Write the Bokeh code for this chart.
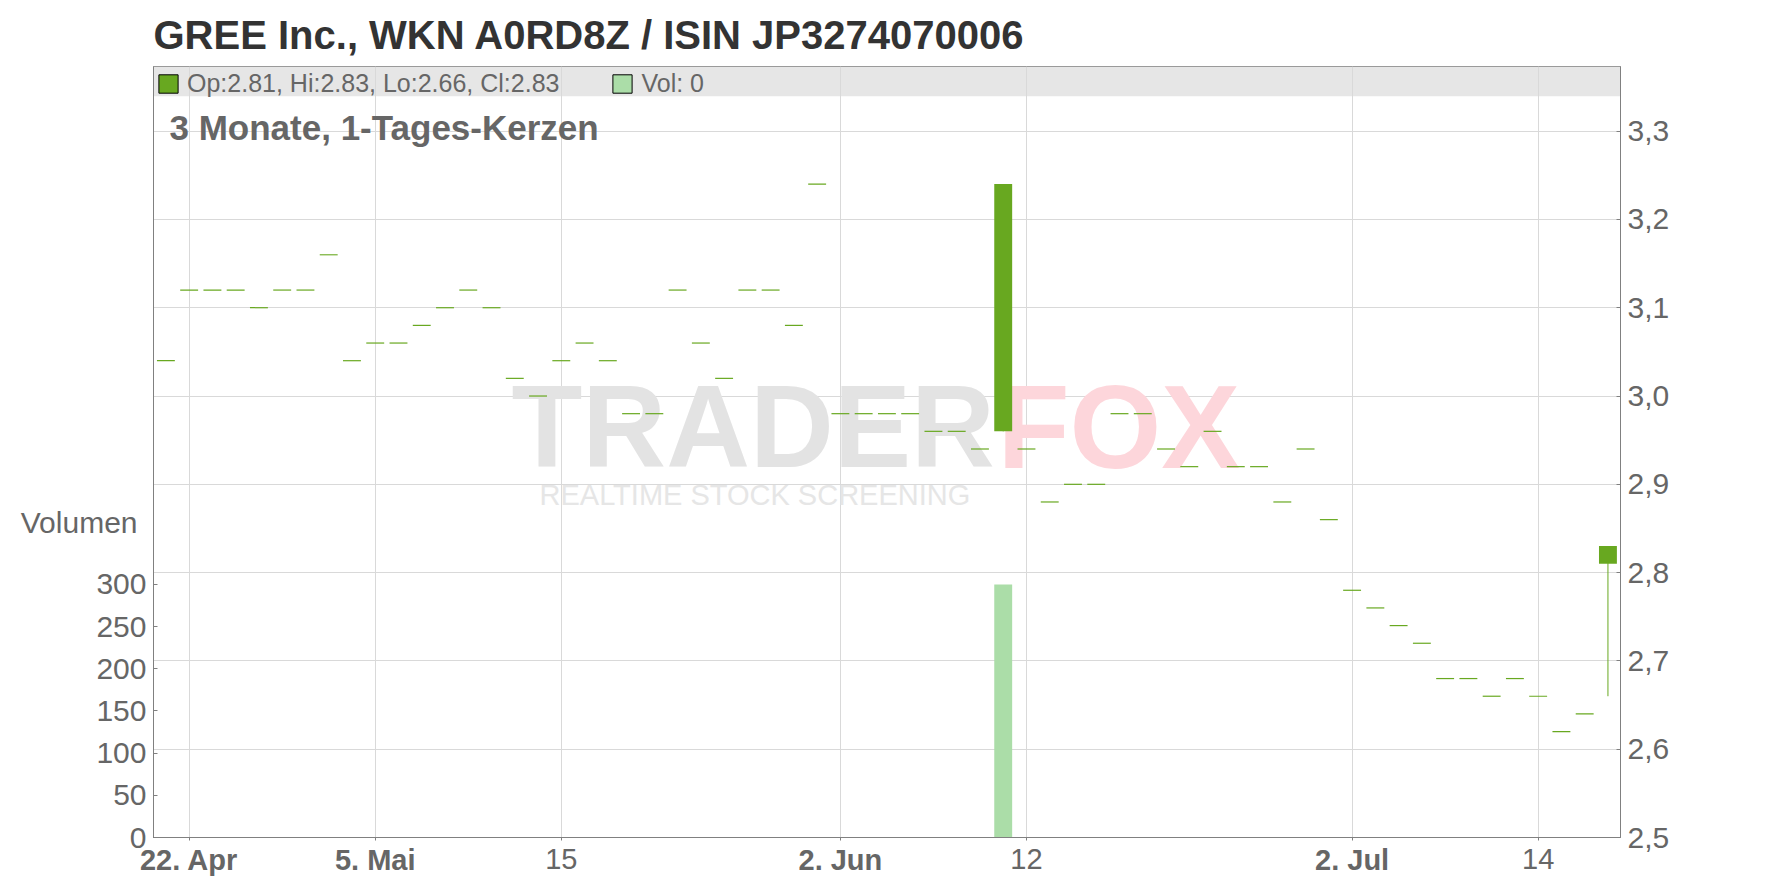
from bokeh.plotting import figure
from bokeh.models import (ColumnDataSource, Range1d, LinearAxis, FixedTicker,
                          CustomJSTickFormatter, Label, BoxAnnotation, Legend, LegendItem)
from bokeh.embed import file_html
from bokeh.resources import INLINE

# ---------------- data ----------------
title_text = "GREE Inc., WKN A0RD8Z / ISIN JP3274070006"
subtitle_text = "3 Monate, 1-Tages-Kerzen"
vol_title = "Volumen"

# trading-day index 0..62 (17 Apr .. 17 Jul)
opens = [3.04, 3.12, 3.12, 3.12, 3.10, 3.12, 3.12, 3.16, 3.04, 3.06,
         3.06, 3.08, 3.10, 3.12, 3.10, 3.02, 3.00, 3.04, 3.06, 3.04,
         2.98, 2.98, 3.12, 3.06, 3.02, 3.12, 3.12, 3.08, 3.24, 2.98,
         2.98, 2.98, 2.98, 2.96, 2.96, 2.94, 2.96, 2.94, 2.88, 2.90,
         2.90, 2.98, 2.98, 2.94, 2.92, 2.96, 2.92, 2.92, 2.88, 2.94,
         2.86, 2.78, 2.76, 2.74, 2.72, 2.68, 2.68, 2.66, 2.68, 2.66,
         2.62, 2.64, 2.81]
highs = [3.04, 3.12, 3.12, 3.12, 3.10, 3.12, 3.12, 3.16, 3.04, 3.06,
         3.06, 3.08, 3.10, 3.12, 3.10, 3.02, 3.00, 3.04, 3.06, 3.04,
         2.98, 2.98, 3.12, 3.06, 3.02, 3.12, 3.12, 3.08, 3.24, 2.98,
         2.98, 2.98, 2.98, 2.96, 2.96, 2.94, 3.24, 2.94, 2.88, 2.90,
         2.90, 2.98, 2.98, 2.94, 2.92, 2.96, 2.92, 2.92, 2.88, 2.94,
         2.86, 2.78, 2.76, 2.74, 2.72, 2.68, 2.68, 2.66, 2.68, 2.66,
         2.62, 2.64, 2.83]
lows = [3.04, 3.12, 3.12, 3.12, 3.10, 3.12, 3.12, 3.16, 3.04, 3.06,
        3.06, 3.08, 3.10, 3.12, 3.10, 3.02, 3.00, 3.04, 3.06, 3.04,
        2.98, 2.98, 3.12, 3.06, 3.02, 3.12, 3.12, 3.08, 3.24, 2.98,
        2.98, 2.98, 2.98, 2.96, 2.96, 2.94, 2.96, 2.94, 2.88, 2.90,
        2.90, 2.98, 2.98, 2.94, 2.92, 2.96, 2.92, 2.92, 2.88, 2.94,
        2.86, 2.78, 2.76, 2.74, 2.72, 2.68, 2.68, 2.66, 2.68, 2.66,
        2.62, 2.64, 2.66]
closes = [3.04, 3.12, 3.12, 3.12, 3.10, 3.12, 3.12, 3.16, 3.04, 3.06,
          3.06, 3.08, 3.10, 3.12, 3.10, 3.02, 3.00, 3.04, 3.06, 3.04,
          2.98, 2.98, 3.12, 3.06, 3.02, 3.12, 3.12, 3.08, 3.24, 2.98,
          2.98, 2.98, 2.98, 2.96, 2.96, 2.94, 3.24, 2.94, 2.88, 2.90,
          2.90, 2.98, 2.98, 2.94, 2.92, 2.96, 2.92, 2.92, 2.88, 2.94,
          2.86, 2.78, 2.76, 2.74, 2.72, 2.68, 2.68, 2.66, 2.68, 2.66,
          2.62, 2.64, 2.83]
volumes = [0, 0, 0, 0, 0, 0, 0, 0, 0, 0,
           0, 0, 0, 0, 0, 0, 0, 0, 0, 0,
           0, 0, 0, 0, 0, 0, 0, 0, 0, 0,
           0, 0, 0, 0, 0, 0, 300, 0, 0, 0,
           0, 0, 0, 0, 0, 0, 0, 0, 0, 0,
           0, 0, 0, 0, 0, 0, 0, 0, 0, 0,
           0, 0, 0]

tick_idx = [1, 9, 17, 29, 37, 51, 59]
tick_labels = ["22. Apr", "5. Mai", "15", "2. Jun", "12", "2. Jul", "14"]
tick_bold = [True, True, False, True, False, True, False]
price_ticks = [2.5, 2.6, 2.7, 2.8, 2.9, 3.0, 3.1, 3.2, 3.3]
vol_ticks = [0, 50, 100, 150, 200, 250, 300]
vol_title_at = 373   # volume-axis position of the "Volumen" caption

# ---------------- styling ----------------
FONT = "Liberation Sans"
GREEN = "#68a820"
VOLGREEN = "#abdda8"
GRID = "#d9d9d9"
AXIS = "#808080"
TXT = "#666666"

n = len(opens)
idx = list(range(n))
W = 0.77

flat_x, flat_y = [], []
body_x, body_top, body_bot = [], [], []
wick_x, wick_lo, wick_hi = [], [], []
for i in idx:
    o, h, l, c = opens[i], highs[i], lows[i], closes[i]
    if h == l:
        flat_x.append(i)
        flat_y.append(c)
    else:
        body_x.append(i)
        body_top.append(max(o, c))
        body_bot.append(min(o, c))
        wick_x.append(i)
        wick_lo.append(l)
        wick_hi.append(h)

X0, X1 = -0.533, 62.54
Y0, Y1 = 2.5, 3.3732

p = figure(width=1776, height=888, output_backend="svg", toolbar_location=None,
           x_range=Range1d(X0, X1), y_range=Range1d(Y0, Y1),
           y_axis_location="right",
           min_border_left=153, min_border_right=156, min_border_top=66,
           min_border_bottom=51)
p.background_fill_color = "white"
p.border_fill_color = "white"
p.outline_line_color = AXIS
p.outline_line_width = 1

p.title.text = title_text
p.title.text_font = FONT
p.title.text_font_size = "40px"
p.title.text_font_style = "bold"
p.title.text_color = "#333333"
p.title.align = "left"
p.title.offset = 0
p.title.standoff = 20

p.extra_y_ranges = {"vol": Range1d(0, 914.2)}

# header band
band = BoxAnnotation(bottom=3.3395, fill_color="#e6e6e6", fill_alpha=1.0,
                     line_alpha=0, level="underlay")
p.center = [band] + list(p.center)

# grids
p.xgrid.ticker = FixedTicker(ticks=tick_idx)
p.ygrid.ticker = FixedTicker(ticks=price_ticks)
p.xgrid.grid_line_color = GRID
p.ygrid.grid_line_color = GRID

# watermark
wm = [
    ("TRADER", 358, 410.5, "116px", "#e3e3e3", "bold"),
    ("FOX", 844, 410.5, "118px", "#fdd6db", "bold"),
    ("REALTIME STOCK SCREENING", 386, 343, "29px", "#e6e6e6", "normal"),
]
for t, x, y, fs, col, st in wm:
    p.add_layout(Label(x=x, y=y, x_units="screen", y_units="screen", text=t,
                       text_font=FONT, text_font_size=fs, text_color=col,
                       text_font_style=st, text_baseline="middle", level="underlay"))

# volume
vsrc = ColumnDataSource(dict(x=idx, v=volumes))
p.vbar(x="x", top="v", bottom=0, width=W, source=vsrc, y_range_name="vol",
       fill_color=VOLGREEN, line_color=None)

# candles
p.segment(x0=wick_x, x1=wick_x, y0=wick_lo, y1=wick_hi, line_color=GREEN, line_width=1)
p.vbar(x=body_x, top=body_top, bottom=body_bot, width=W, fill_color=GREEN,
       line_color=None)
p.segment(x0=[x - W / 2 for x in flat_x], x1=[x + W / 2 for x in flat_x],
          y0=flat_y, y1=flat_y, line_color=GREEN, line_width=1.2)

# legend swatches (placeholder renderers kept outside the visible x range)
r_leg1 = p.vbar(x=[-100], top=[Y0], bottom=[Y0], width=W, fill_color=GREEN, line_color="black")
r_leg2 = p.vbar(x=[-100], top=[Y0], bottom=[Y0], width=W, fill_color=VOLGREEN, line_color="black")
lab1 = "Op:%.2f, Hi:%.2f, Lo:%.2f, Cl:%.2f" % (opens[-1], highs[-1], lows[-1], closes[-1])
lab2 = "Vol: %d" % volumes[-1]
legend = Legend(items=[LegendItem(label=lab1, renderers=[r_leg1]),
                       LegendItem(label=lab2, renderers=[r_leg2])],
                location="top_left", orientation="horizontal",
                background_fill_alpha=0, border_line_alpha=0,
                margin=0, padding=3, spacing=51, label_standoff=7,
                glyph_width=24, glyph_height=23, label_height=23,
                label_text_font=FONT, label_text_font_size="25px",
                label_text_color=TXT)
p.add_layout(legend)

# price axis (right)
ya = p.yaxis[0]
ya.ticker = FixedTicker(ticks=price_ticks)
ya.formatter = CustomJSTickFormatter(code="return tick.toFixed(1).replace('.', ',');")

# volume axis (left)
va = LinearAxis(y_range_name="vol", ticker=FixedTicker(ticks=vol_ticks))
p.add_layout(va, "left")

for ax in [ya, va]:
    ax.axis_line_color = AXIS
    ax.major_tick_line_color = AXIS
    ax.major_tick_in = 4
    ax.major_tick_out = 0
    ax.minor_tick_line_color = None
    ax.major_label_text_font = FONT
    ax.major_label_text_font_size = "30px"
    ax.major_label_text_color = TXT
    ax.major_label_standoff = 7

# "Volumen" caption: an extra left axis carrying only that label (pulled next to the numbers)
vcap = LinearAxis(y_range_name="vol", ticker=FixedTicker(ticks=[vol_title_at]))
vcap.major_label_overrides = {vol_title_at: vol_title}
vcap.axis_line_color = None
vcap.major_tick_line_color = None
vcap.minor_tick_line_color = None
vcap.major_tick_in = 0
vcap.major_tick_out = 0
vcap.major_label_standoff = -44
vcap.major_label_text_font = FONT
vcap.major_label_text_font_size = "30px"
vcap.major_label_text_color = TXT
p.add_layout(vcap, "left")

# x axis: all tick marks, regular day labels
xa = p.xaxis[0]
xa.ticker = FixedTicker(ticks=tick_idx)
xa.major_label_overrides = {i: ("" if b else t) for i, t, b in zip(tick_idx, tick_labels, tick_bold)}
xa.axis_line_color = AXIS
xa.major_tick_line_color = AXIS
xa.major_tick_in = 0
xa.major_tick_out = 3
xa.major_label_standoff = 8

# second x axis: bold month labels, pulled up into the same row
xb = LinearAxis(ticker=FixedTicker(ticks=[i for i, b in zip(tick_idx, tick_bold) if b]))
xb.major_label_overrides = {i: t for i, t, b in zip(tick_idx, tick_labels, tick_bold) if b}
xb.major_label_text_font_style = "bold"
xb.axis_line_color = None
xb.major_tick_line_color = None
xb.major_tick_in = 0
xb.major_tick_out = 0
xb.major_label_standoff = -28
p.add_layout(xb, "below")

for ax in [xa, xb]:
    ax.minor_tick_line_color = None
    ax.major_label_text_font = FONT
    ax.major_label_text_font_size = "29px"
    ax.major_label_text_color = TXT

# subtitle inside the plot area
p.add_layout(Label(x=16, y=709.8, x_units="screen", y_units="screen", text=subtitle_text,
                   text_font=FONT, text_font_size="35px", text_font_style="bold",
                   text_color=TXT, text_baseline="middle"))

open("out.html", "w").write(file_html(p, INLINE))
